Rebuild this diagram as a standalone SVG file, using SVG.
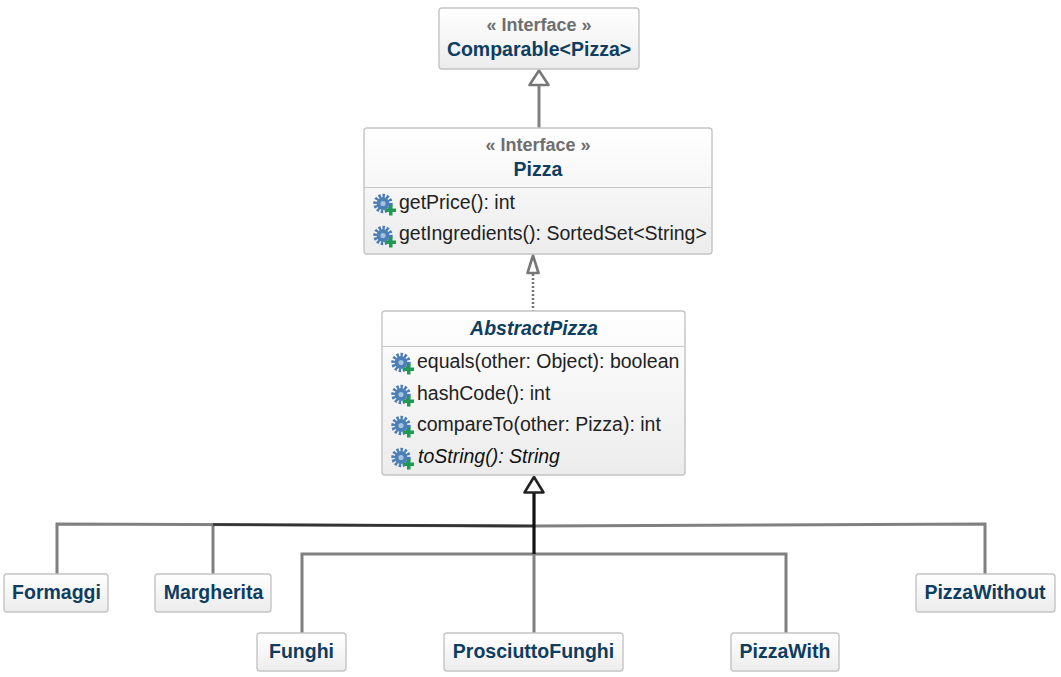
<svg xmlns="http://www.w3.org/2000/svg" width="1061" height="677" viewBox="0 0 1061 677">
<style>
text{font-family:"Liberation Sans",Arial,sans-serif}
.box{fill:url(#g);stroke:#c4c4c4;stroke-width:1.4}
.div{stroke:#c8c8c8;stroke-width:1.2}
.name{font-size:19.500px;font-weight:bold;fill:#0e3d60;text-anchor:middle}
.st{font-size:18px;font-weight:bold;fill:#6e6e6e;text-anchor:middle}
.m{font-size:19.500px;fill:#222}
.i{font-style:italic;fill:#111}
.ln{fill:none;stroke:#808080;stroke-width:3}
.hd{fill:#fff;stroke:#777;stroke-width:2.6;stroke-linejoin:round}
</style>
<defs>
<linearGradient id="g" x1="0" y1="0" x2="0" y2="1"><stop offset="0" stop-color="#fff"/><stop offset="1" stop-color="#ececec"/></linearGradient>
<symbol id="op" viewBox="0 0 25 25" width="25" height="25" overflow="visible">
<circle cx="10" cy="10.500" r="7.800" fill="none" stroke="#4a7bb2" stroke-width="3.800" stroke-dasharray="2.400 1.600"/>
<circle cx="10" cy="10.500" r="6.400" fill="#4a7fb8"/>
<circle cx="10" cy="10.500" r="2.600" fill="#a9c2dc"/>
<path d="M12.500 15.500h3.500v-3.500h3.500v3.500h3.500v3.500h-3.500v3.500h-3.500v-3.500h-3.500z" fill="#1f9a52"/>
</symbol>
</defs>
<g id="connectors">
<path class="ln" d="M539 84V128"/>
<path class="hd" d="M539 70.500L548.500 85H529.500Z"/>
<path d="M533 274V311" fill="none" stroke="#777" stroke-width="2.600" stroke-dasharray="2 2"/>
<path class="hd" d="M533 255.500L538.500 273H527.500Z"/>
<path class="ln" d="M57 574V524L534 526"/>
<path class="ln" d="M213 574V524.500"/>
<path class="ln" d="M985 574V524L534 526"/>
<path class="ln" d="M302 633V554H786V633"/>
<path class="ln" d="M534 554V633"/>
<path d="M213 524.500L534 526" fill="none" stroke="#333" stroke-width="2.600"/>
<path d="M534 493V554" fill="none" stroke="#111" stroke-width="3.200"/>
<path d="M524.500 492.500L534 477L543.500 492.500Z" fill="#fff" stroke="#222" stroke-width="2.600" stroke-linejoin="round"/>
</g>
<g id="comparable">
<rect class="box" x="439" y="8" width="200" height="61" rx="3"/>
<text class="st" x="539" y="31">« Interface »</text>
<text class="name" x="539" y="56">Comparable&lt;Pizza&gt;</text>
</g>
<g id="pizza">
<rect class="box" x="364" y="128" width="348" height="126" rx="3"/>
<line class="div" x1="364" y1="187.500" x2="712" y2="187.500"/>
<text class="st" x="538" y="151">« Interface »</text>
<text class="name" x="538" y="176">Pizza</text>
<use href="#op" x="373" y="193"/>
<text class="m" x="399" y="209">getPrice(): int</text>
<use href="#op" x="373" y="225"/>
<text class="m" x="399" y="240">getIngredients(): SortedSet&lt;String&gt;</text>
</g>
<g id="abstractpizza">
<rect class="box" x="382" y="311" width="303" height="164" rx="3"/>
<line class="div" x1="382" y1="346.500" x2="685" y2="346.500"/>
<text class="name i" style="fill:#0e3d60" x="534" y="335">AbstractPizza</text>
<use href="#op" x="391" y="352"/>
<text class="m" x="417" y="368">equals(other: Object): boolean</text>
<use href="#op" x="391" y="384"/>
<text class="m" x="417" y="400">hashCode(): int</text>
<use href="#op" x="391" y="415"/>
<text class="m" x="417" y="431">compareTo(other: Pizza): int</text>
<use href="#op" x="391" y="447"/>
<text class="m i" x="418" y="463">toString(): String</text>
</g>
<g id="formaggi">
<rect class="box" x="4" y="574" width="104" height="38" rx="3"/>
<text class="name" x="56.500" y="599">Formaggi</text>
</g>
<g id="margherita">
<rect class="box" x="155" y="574" width="116" height="38" rx="3"/>
<text class="name" x="213.500" y="599">Margherita</text>
</g>
<g id="funghi">
<rect class="box" x="257" y="633" width="89" height="38" rx="3"/>
<text class="name" x="301.500" y="658">Funghi</text>
</g>
<g id="prosciuttofunghi">
<rect class="box" x="444" y="633" width="179" height="38" rx="3"/>
<text class="name" x="533.500" y="658">ProsciuttoFunghi</text>
</g>
<g id="pizzawith">
<rect class="box" x="731" y="633" width="108" height="38" rx="3"/>
<text class="name" x="785" y="658">PizzaWith</text>
</g>
<g id="pizzawithout">
<rect class="box" x="916" y="574" width="139" height="38" rx="3"/>
<text class="name" x="985" y="599">PizzaWithout</text>
</g>
</svg>
